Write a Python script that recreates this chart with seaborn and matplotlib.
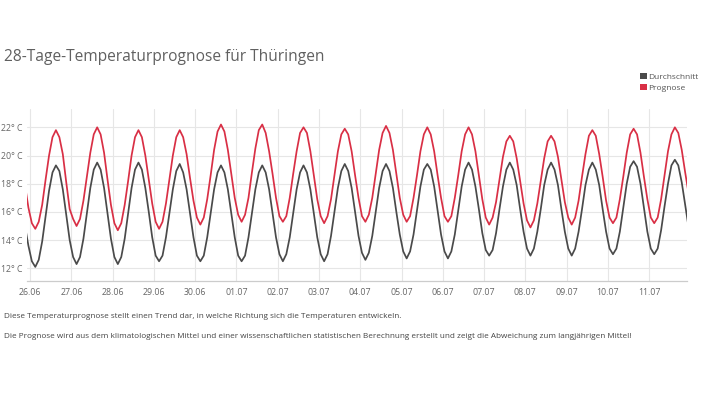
import pandas as pd
import matplotlib
matplotlib.use("Agg")
import matplotlib.pyplot as plt
import matplotlib.dates as mdates
from matplotlib.patches import Patch
import seaborn as sns

# ---------------- data ----------------
title = "28-Tage-Temperaturprognose für Thüringen"
series_names = ["Durchschnitt", "Prognose"]
start_time = "2024-06-25 21:00"   # first sample, then every 2 hours
step = "2h"

durchschnitt = [
    15.0, 13.6,
    12.5, 12.1, 12.6, 13.9, 15.7, 17.5, 18.8, 19.3, 18.9, 17.6, 15.8, 14.0,
    12.8, 12.3, 12.8, 14.1, 15.9, 17.7, 19.0, 19.5, 19.0, 17.7, 15.9, 14.1,
    12.8, 12.3, 12.8, 14.1, 15.9, 17.7, 19.0, 19.5, 19.0, 17.7, 16.0, 14.2,
    12.9, 12.5, 12.9, 14.2, 15.9, 17.6, 18.9, 19.4, 18.8, 17.6, 15.9, 14.2,
    12.9, 12.5, 12.9, 14.2, 15.9, 17.6, 18.8, 19.3, 18.8, 17.6, 15.9, 14.2,
    12.9, 12.5, 12.9, 14.2, 15.9, 17.6, 18.8, 19.3, 18.8, 17.6, 15.9, 14.2,
    13.0, 12.5, 13.0, 14.2, 15.9, 17.6, 18.8, 19.3, 18.8, 17.6, 15.9, 14.2,
    13.0, 12.5, 13.0, 14.3, 16.0, 17.7, 18.9, 19.4, 18.9, 17.7, 16.0, 14.3,
    13.1, 12.6, 13.1, 14.3, 16.0, 17.7, 18.9, 19.4, 18.9, 17.7, 16.0, 14.4,
    13.2, 12.7, 13.2, 14.4, 16.1, 17.8, 19.0, 19.4, 19.0, 17.8, 16.1, 14.4,
    13.2, 12.7, 13.2, 14.4, 16.1, 17.8, 19.0, 19.5, 19.0, 17.8, 16.2, 14.5,
    13.3, 12.9, 13.3, 14.5, 16.2, 17.8, 19.0, 19.5, 19.0, 17.9, 16.2, 14.6,
    13.4, 12.9, 13.4, 14.6, 16.2, 17.9, 19.0, 19.5, 19.0, 17.9, 16.2, 14.6,
    13.4, 12.9, 13.4, 14.6, 16.2, 17.9, 19.0, 19.5, 19.0, 17.9, 16.2, 14.6,
    13.4, 13.0, 13.4, 14.6, 16.3, 18.0, 19.2, 19.6, 19.2, 18.0, 16.3, 14.6,
    13.4, 13.0, 13.4, 14.7, 16.4, 18.0, 19.3, 19.7, 19.3, 18.1, 16.5, 14.9,
]

prognose = [
    17.9, 16.3,
    15.2, 14.8, 15.3, 16.5, 18.3, 20.0, 21.3, 21.8, 21.3, 20.1, 18.1, 16.2,
    15.5, 15.0, 15.5, 16.8, 18.5, 20.2, 21.5, 22.0, 21.5, 20.2, 18.3, 16.5,
    15.2, 14.7, 15.2, 16.5, 18.2, 20.0, 21.3, 21.8, 21.3, 20.0, 18.3, 16.6,
    15.3, 14.8, 15.3, 16.6, 18.3, 20.0, 21.3, 21.8, 21.3, 20.1, 18.4, 16.8,
    15.6, 15.1, 15.6, 16.9, 18.6, 20.4, 21.7, 22.2, 21.7, 20.4, 18.7, 17.0,
    15.8, 15.3, 15.8, 17.0, 18.8, 20.5, 21.8, 22.2, 21.6, 20.3, 18.7, 17.0,
    15.7, 15.3, 15.7, 17.0, 18.7, 20.3, 21.6, 22.0, 21.6, 20.3, 18.6, 16.9,
    15.7, 15.2, 15.7, 16.9, 18.6, 20.3, 21.5, 21.9, 21.5, 20.3, 18.6, 17.0,
    15.7, 15.3, 15.8, 17.0, 18.7, 20.4, 21.6, 22.1, 21.6, 20.4, 18.7, 17.0,
    15.8, 15.3, 15.7, 17.0, 18.6, 20.3, 21.5, 22.0, 21.5, 20.3, 18.6, 17.0,
    15.7, 15.3, 15.7, 17.0, 18.6, 20.3, 21.5, 22.0, 21.5, 20.3, 18.6, 16.9,
    15.6, 15.1, 15.6, 16.7, 18.3, 19.9, 21.0, 21.4, 21.0, 19.8, 18.2, 16.6,
    15.4, 14.9, 15.4, 16.6, 18.2, 19.8, 21.0, 21.4, 21.0, 19.9, 18.3, 16.7,
    15.6, 15.1, 15.6, 16.8, 18.5, 20.1, 21.4, 21.8, 21.4, 20.1, 18.5, 16.8,
    15.6, 15.2, 15.6, 16.9, 18.5, 20.2, 21.5, 21.9, 21.5, 20.2, 18.5, 16.9,
    15.6, 15.2, 15.6, 16.9, 18.6, 20.3, 21.5, 22.0, 21.6, 20.4, 18.8, 17.3,
]

y_ticks = [12, 14, 16, 18, 20, 22]
x_range = ["2024-06-25 22:00", "2024-07-11 22:00"]
footer_lines = [
    "Diese Temperaturprognose stellt einen Trend dar, in welche Richtung sich die Temperaturen entwickeln.",
    "Die Prognose wird aus dem klimatologischen Mittel und einer wissenschaftlichen statistischen Berechnung erstellt und zeigt die Abweichung zum langjährigen Mittel!",
]

# ---------------- styling ----------------
colors = {"Durchschnitt": "#4a4a4a", "Prognose": "#d92f45"}

sns.set_theme(style="white")
plt.rcParams["font.family"] = ["Open Sans", "DejaVu Sans"]

times = pd.date_range(start_time, periods=len(prognose), freq=step)
df = pd.concat([
    pd.DataFrame({"time": times, "temp": durchschnitt, "series": series_names[0]}),
    pd.DataFrame({"time": times, "temp": prognose, "series": series_names[1]}),
])

W, H = 703, 396
fig = plt.figure(figsize=(W / 100, H / 100), dpi=100)
fig.patch.set_facecolor("white")
ax = fig.add_axes([26.7 / W, 1 - 281 / H, 660.2 / W, 172 / H])

sns.lineplot(data=df, x="time", y="temp", hue="series", palette=colors,
             hue_order=series_names, estimator=None, linewidth=1.25,
             legend=False, ax=ax)
for ln in ax.lines:
    ln.set_solid_joinstyle("round")
    ln.set_solid_capstyle("butt")

ax.set_xlim(mdates.date2num(pd.Timestamp(x_range[0]).to_pydatetime()),
            mdates.date2num(pd.Timestamp(x_range[1]).to_pydatetime()))
ax.set_ylim(11.1, 23.3)
ax.set_yticks(y_ticks)
ax.set_yticklabels([f"{v}° C" for v in y_ticks])
ax.xaxis.set_major_locator(mdates.DayLocator())
ax.xaxis.set_major_formatter(mdates.DateFormatter("%d.%m"))
ax.set_xlabel("")
ax.set_ylabel("")

ax.grid(True, color="#e6e6e6", linewidth=0.8)
ax.set_axisbelow(True)
for s in ["top", "right", "left"]:
    ax.spines[s].set_visible(False)
ax.spines["bottom"].set_color("#cccccc")
ax.spines["bottom"].set_linewidth(0.9)
ax.tick_params(axis="both", length=0, labelsize=6.3, colors="#666666")
ax.tick_params(axis="y", pad=3)
ax.tick_params(axis="x", pad=5)
ax.set_facecolor("white")

fig.text(4 / W, 1 - 57 / H, title, fontsize=11.2, color="#606060",
         va="center", ha="left")

handles = [Patch(facecolor=colors[n], edgecolor="none", label=n) for n in series_names]
fig.legend(handles=handles, loc="upper left", bbox_to_anchor=(640 / W, 1 - 73 / H),
           frameon=False, fontsize=6.0, handlelength=0.8, handleheight=0.8,
           handletextpad=0.12, labelspacing=0.3, borderpad=0, borderaxespad=0,
           labelcolor="#555555")

fig.text(4 / W, 1 - 316 / H, footer_lines[0], fontsize=5.85, color="#444444",
         va="center", ha="left")
fig.text(4 / W, 1 - 336 / H, footer_lines[1], fontsize=5.85, color="#444444",
         va="center", ha="left")

fig.savefig("out.png", dpi=100, facecolor="white")
